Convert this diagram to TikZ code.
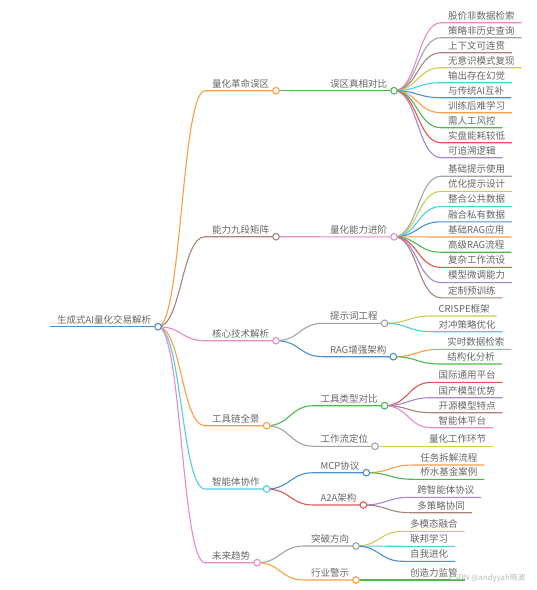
\documentclass[tikz,border=0pt]{standalone}
\usepackage{fontspec}
\usepackage{tikz}
\usetikzlibrary{calc}
\newfontfamily\cjk{Noto Sans CJK SC}
\definecolor{mpink}{HTML}{E88AC8}
\definecolor{mgray}{HTML}{A3A3A3}
\definecolor{mbrown}{HTML}{A8837A}
\definecolor{molive}{HTML}{CDCD55}
\definecolor{mcyan}{HTML}{4ECFDF}
\definecolor{mblue}{HTML}{4A90CF}
\definecolor{morange}{HTML}{FF9D45}
\definecolor{mgreen}{HTML}{4DB84D}
\definecolor{mred}{HTML}{E25555}
\definecolor{mpurple}{HTML}{A985D3}
\definecolor{ink}{HTML}{666666}

% children of a node: parent name, list of name/text/colour/y
\newcommand{\kids}[2]{%
  \coordinate (#1-k) at ([xshift=47pt]#1.south east);
  \foreach \nm/\txt/\cl/\yy in {#2}{
    \node[lbl] (\nm) at (#1-k |- 0,\yy) {\txt};
    \draw[conn=\cl] (#1.south east) .. controls +(23.5,0) and +(-23.5,0) .. (\nm.south west) -- (\nm.south east);
  }}

\begin{document}
\begin{tikzpicture}[x=1pt,y=-1pt,
  lbl/.style={font=\cjk\fontsize{9.5}{11}\selectfont,text=ink,anchor=south west,
              inner xsep=6.8pt,inner ysep=3.5pt,text depth=0pt},
  conn/.style={draw=#1,line width=1.1pt},
  knob/.style={draw=#1,fill=white,line width=1.1pt}
]
\useasboundingbox (0,0) rectangle (537,590);

% root
\node[lbl] (root) at (50,326.7) {生成式AI量化交易解析};
\draw[conn=mblue] (root.south west) -- (root.south east);

% first level
\kids{root}{trap/量化革命误区/morange/90.7, nine/能力九段矩阵/mbrown/236.7,
  core/核心技术解析/mpink/340.7, tool/工具链全景/morange/425.7,
  agent/智能体协作/mcyan/489, trend/未来趋势/mpink/562.7}

% second level
\kids{trap}{truth/误区真相对比/mgreen/90.7}
\kids{nine}{ladder/量化能力进阶/mpink/236.8}
\kids{core}{prompt/提示词工程/mgray/323.3, rag/RAG增强架构/mblue/356.7}
\kids{tool}{types/工具类型对比/mgreen/405.7, flow/工作流定位/mgray/446.3}
\kids{agent}{mcp/MCP协议/mblue/472.7, atoa/A2A架构/mred/505}
\kids{trend}{dir/突破方向/mgray/546, warn/行业警示/morange/580}

% leaves
\kids{truth}{t1/股价非数据检索/mpink/22.7, t2/策略非历史查询/mgray/37.7,
  t3/上下文可连贯/mbrown/52.7, t4/无意识模式复现/molive/67.7,
  t5/输出存在幻觉/mcyan/82.7, t6/与传统AI互补/mblue/97.7,
  t7/训练后难学习/morange/112.7, t8/需人工风控/mgreen/127.7,
  t9/实盘能耗较低/mred/142.7, t10/可追溯逻辑/mpurple/157.7}
\kids{ladder}{l1/基础提示使用/mgray/176.2, l2/优化提示设计/molive/191.4,
  l3/整合公共数据/mcyan/206.6, l4/融合私有数据/mblue/221.8,
  l5/基础RAG应用/morange/237, l6/高级RAG流程/mgreen/252.2,
  l7/复杂工作流设/mred/267.4, l8/模型微调能力/mpurple/282.6,
  l9/定制预训练/mbrown/297.8}
\kids{prompt}{p1/CRISPE框架/molive/316, p2/对冲策略优化/mcyan/331.7}
\kids{rag}{g1/实时数据检索/morange/349.3, g2/结构化分析/mgreen/364}
\kids{types}{y1/国际通用平台/mred/382.3, y2/国产模型优势/mpurple/397.7,
  y3/开源模型特点/mbrown/412.7, y4/智能体平台/mpink/427.7}
\kids{flow}{f1/量化工作环节/molive/446.3}
\kids{mcp}{m1/任务拆解流程/morange/465, m2/桥水基金案例/mgreen/479.3}
\kids{atoa}{a1/跨智能体协议/mpurple/497.3, a2/多策略协同/mbrown/512.7}
\kids{dir}{d1/多模态融合/molive/531.3, d2/联邦学习/mcyan/546.3, d3/自我进化/mblue/561.3}
\kids{warn}{w1/创造力监管/mgreen/580}

% circles on the inner nodes
\foreach \nm/\cl in {root/mblue, trap/morange, nine/mbrown, core/mpink, tool/morange,
  agent/mcyan, trend/mpink, truth/mgreen, ladder/mpink, prompt/mgray, rag/mblue,
  types/mgreen, flow/mgray, mcp/mblue, atoa/mred, dir/mgray, warn/morange}
  \draw[knob=\cl] (\nm.south east) circle (3.3pt);

\node[font=\cjk\fontsize{7.8}{9}\selectfont,text=black!28,anchor=base west,inner sep=0pt] (mark) at (449,580.5) {CSDN @andyyah晓波};
\end{tikzpicture}
\end{document}
